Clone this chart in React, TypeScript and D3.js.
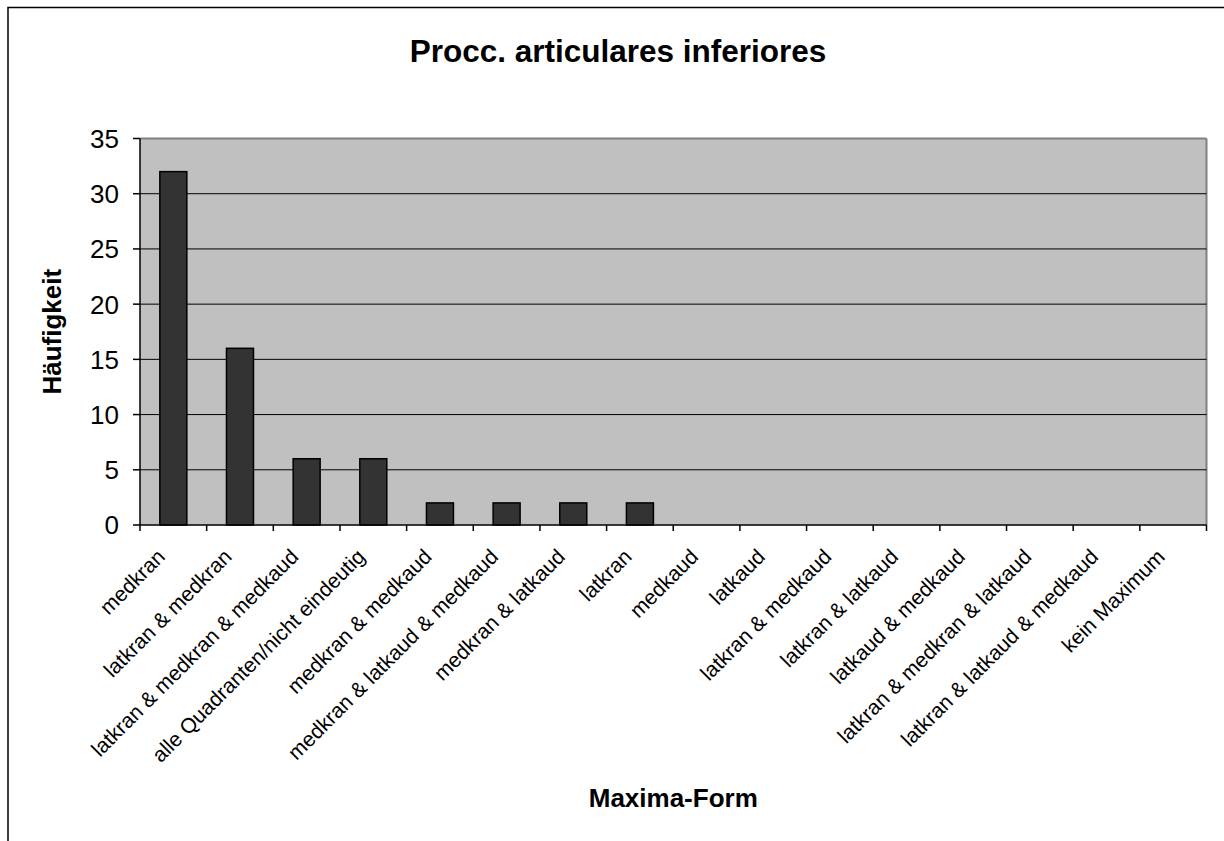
import React from 'react';
import * as d3 from 'd3';

const categories = [
  'medkran',
  'latkran & medkran',
  'latkran & medkran & medkaud',
  'alle Quadranten/nicht eindeutig',
  'medkran & medkaud',
  'medkran & latkaud & medkaud',
  'medkran & latkaud',
  'latkran',
  'medkaud',
  'latkaud',
  'latkran & medkaud',
  'latkran & latkaud',
  'latkaud & medkaud',
  'latkran & medkran & latkaud',
  'latkran & latkaud & medkaud',
  'kein Maximum',
];
const counts = [32, 16, 6, 6, 2, 2, 2, 2, 0, 0, 0, 0, 0, 0, 0, 0];
const yTicks = [0, 5, 10, 15, 20, 25, 30, 35];

const W = 1224, H = 841;
const plot = { left: 140, right: 1206.5, top: 138.5, bottom: 525 };
const font = '"Liberation Sans", Arial, sans-serif';

export default function App() {
  const x = d3.scaleBand<string>()
    .domain(categories)
    .range([plot.left, plot.right])
    .paddingInner(0.595)
    .paddingOuter(0.2975);
  const step = (plot.right - plot.left) / categories.length;
  const y = d3.scaleLinear().domain([0, 35]).range([plot.bottom, plot.top]);
  const edges = d3.range(categories.length + 1).map(i => plot.left + i * step);

  return (
    <svg width={W} height={H} style={{ position: 'absolute', left: 0, top: 0, display: 'block' }}
      fontFamily={font}>
      <rect x={0} y={0} width={W} height={H} fill="#fff" />
      {/* outer chart frame, runs off the right and bottom */}
      <rect x={8} y={7.5} width={W + 20} height={H + 20} fill="none" stroke="#000" strokeWidth={1.5} />

      <text x={618} y={62} textAnchor="middle" fontWeight="bold" fontSize={31.5}>
        Procc. articulares inferiores
      </text>

      {/* plot area */}
      <rect x={plot.left} y={plot.top} width={plot.right - plot.left} height={plot.bottom - plot.top}
        fill="#c0c0c0" />
      <line x1={plot.left} x2={plot.right} y1={plot.top} y2={plot.top} stroke="#808080" strokeWidth={2} />
      <line x1={plot.right} x2={plot.right} y1={plot.top} y2={plot.bottom} stroke="#808080" strokeWidth={2} />

      {yTicks.filter(t => t > 0 && t < 35).map(t => (
        <line key={t} x1={plot.left} x2={plot.right} y1={y(t)} y2={y(t)} stroke="#000" strokeWidth={1} />
      ))}

      {categories.map((c, i) => counts[i] > 0 && (
        <rect key={c} x={x(c)} y={y(counts[i])} width={x.bandwidth()} height={y(0) - y(counts[i])}
          fill="#333333" stroke="#000" strokeWidth={1.5} />
      ))}

      {/* y axis */}
      <line x1={plot.left} x2={plot.left} y1={plot.top} y2={plot.bottom} stroke="#000" strokeWidth={1.5} />
      {yTicks.map(t => (
        <g key={t}>
          <line x1={plot.left - 7} x2={plot.left} y1={y(t)} y2={y(t)} stroke="#000" strokeWidth={1.5} />
          <text x={119} y={y(t)} dy="0.36em" textAnchor="end" fontSize={26}>{t}</text>
        </g>
      ))}

      {/* x axis */}
      <line x1={plot.left} x2={plot.right} y1={plot.bottom} y2={plot.bottom} stroke="#000" strokeWidth={1.5} />
      {edges.map((e, i) => (
        <line key={i} x1={e} x2={e} y1={plot.bottom} y2={plot.bottom + 6} stroke="#000" strokeWidth={1.5} />
      ))}
      {categories.map(c => {
        const ax = (x(c) ?? 0) + x.bandwidth() / 2 - 7;
        const ay = 558;
        return (
          <text key={c} x={ax} y={ay} textAnchor="end" fontSize={21}
            transform={`rotate(-45 ${ax} ${ay})`}>{c}</text>
        );
      })}

      <text transform={`translate(61 ${(plot.top + plot.bottom) / 2}) rotate(-90)`} textAnchor="middle"
        fontWeight="bold" fontSize={26}>Häufigkeit</text>
      <text x={(plot.left + plot.right) / 2} y={807} textAnchor="middle" fontWeight="bold" fontSize={26}>
        Maxima-Form
      </text>
    </svg>
  );
}
